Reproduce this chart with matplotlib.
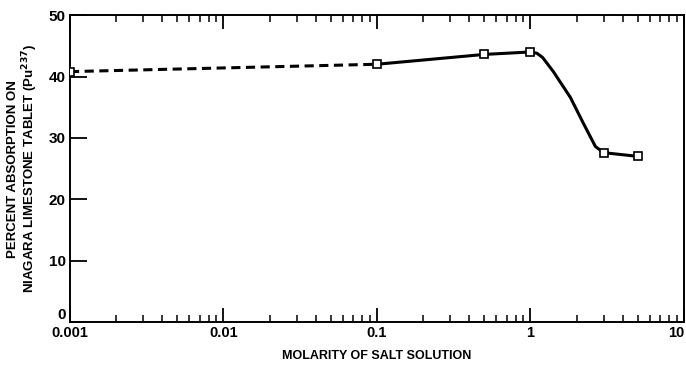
import matplotlib
matplotlib.use("Agg")
import matplotlib.pyplot as plt
from matplotlib.ticker import LogLocator, NullFormatter, FixedLocator, FixedFormatter

# Puntos medidos (molaridad, % absorcion)
molarity = [0.001, 0.1, 0.5, 1.0, 3.0, 5.0]
absorption = [40.8, 42.0, 43.6, 44.0, 27.6, 27.0]

# Tramo extrapolado (discontinuo)
dash_x = [0.001, 0.1]
dash_y = [40.8, 42.0]

# Curva continua
curve_x = [0.1, 0.5, 1.0, 1.1, 1.2, 1.41, 1.82, 2.21, 2.65, 3.0, 5.0]
curve_y = [42.0, 43.6, 44.0, 43.8, 43.1, 40.8, 36.6, 32.4, 28.6, 27.6, 27.0]

x_ticks = [0.001, 0.01, 0.1, 1, 10]
x_tick_labels = ["0.001", "0.01", "0.1", "1", "10"]
y_ticks = [0, 10, 20, 30, 40, 50]

plt.rcParams["font.family"] = ["Liberation Sans", "DejaVu Sans"]
plt.rcParams["font.weight"] = "bold"

fig = plt.figure(figsize=(6.86, 3.69), dpi=100)
ax = fig.add_axes([0.102, 0.127, 0.895, 0.832])

ax.plot(dash_x, dash_y, color="black", lw=2.2, ls=(0, (3, 1.8)))
ax.plot(curve_x, curve_y, color="black", lw=2.2)
ax.plot(molarity, absorption, ls="none", marker="s", ms=5.5,
        mfc="white", mec="black", mew=1.2, zorder=5)

ax.set_xscale("log")
ax.set_xlim(0.001, 10)
ax.set_ylim(0, 50)

ax.xaxis.set_major_locator(FixedLocator(x_ticks))
ax.xaxis.set_major_formatter(FixedFormatter(x_tick_labels))
ax.xaxis.set_minor_locator(LogLocator(base=10, subs=range(2, 10)))
ax.xaxis.set_minor_formatter(NullFormatter())
ax.set_yticks(y_ticks)

ax.tick_params(axis="x", which="major", direction="in", length=10, width=1.3,
               top=True, labelsize=10.5, pad=3)
ax.tick_params(axis="x", which="minor", direction="in", length=5, width=1.1, top=True)
ax.tick_params(axis="y", which="major", direction="in", length=12, width=1.3,
               right=False, labelsize=11, pad=3)
# el "0" del eje y queda un poco por encima del eje, como en el original
ax.get_yticklabels()[0].set_verticalalignment("bottom")
# el "10" final se alinea a la derecha para que no se corte
ax.get_xticklabels()[-1].set_horizontalalignment("right")

for s in ax.spines.values():
    s.set_linewidth(1.4)

ax.set_xlabel("MOLARITY OF SALT SOLUTION", fontsize=9, fontweight="bold", labelpad=7)
ax.set_ylabel("PERCENT ABSORPTION ON\nNIAGARA LIMESTONE TABLET (Pu$^{\\mathbf{237}}$)",
              fontsize=9.5, fontweight="bold", labelpad=6, linespacing=1.15)

fig.savefig("out.png", dpi=100)
